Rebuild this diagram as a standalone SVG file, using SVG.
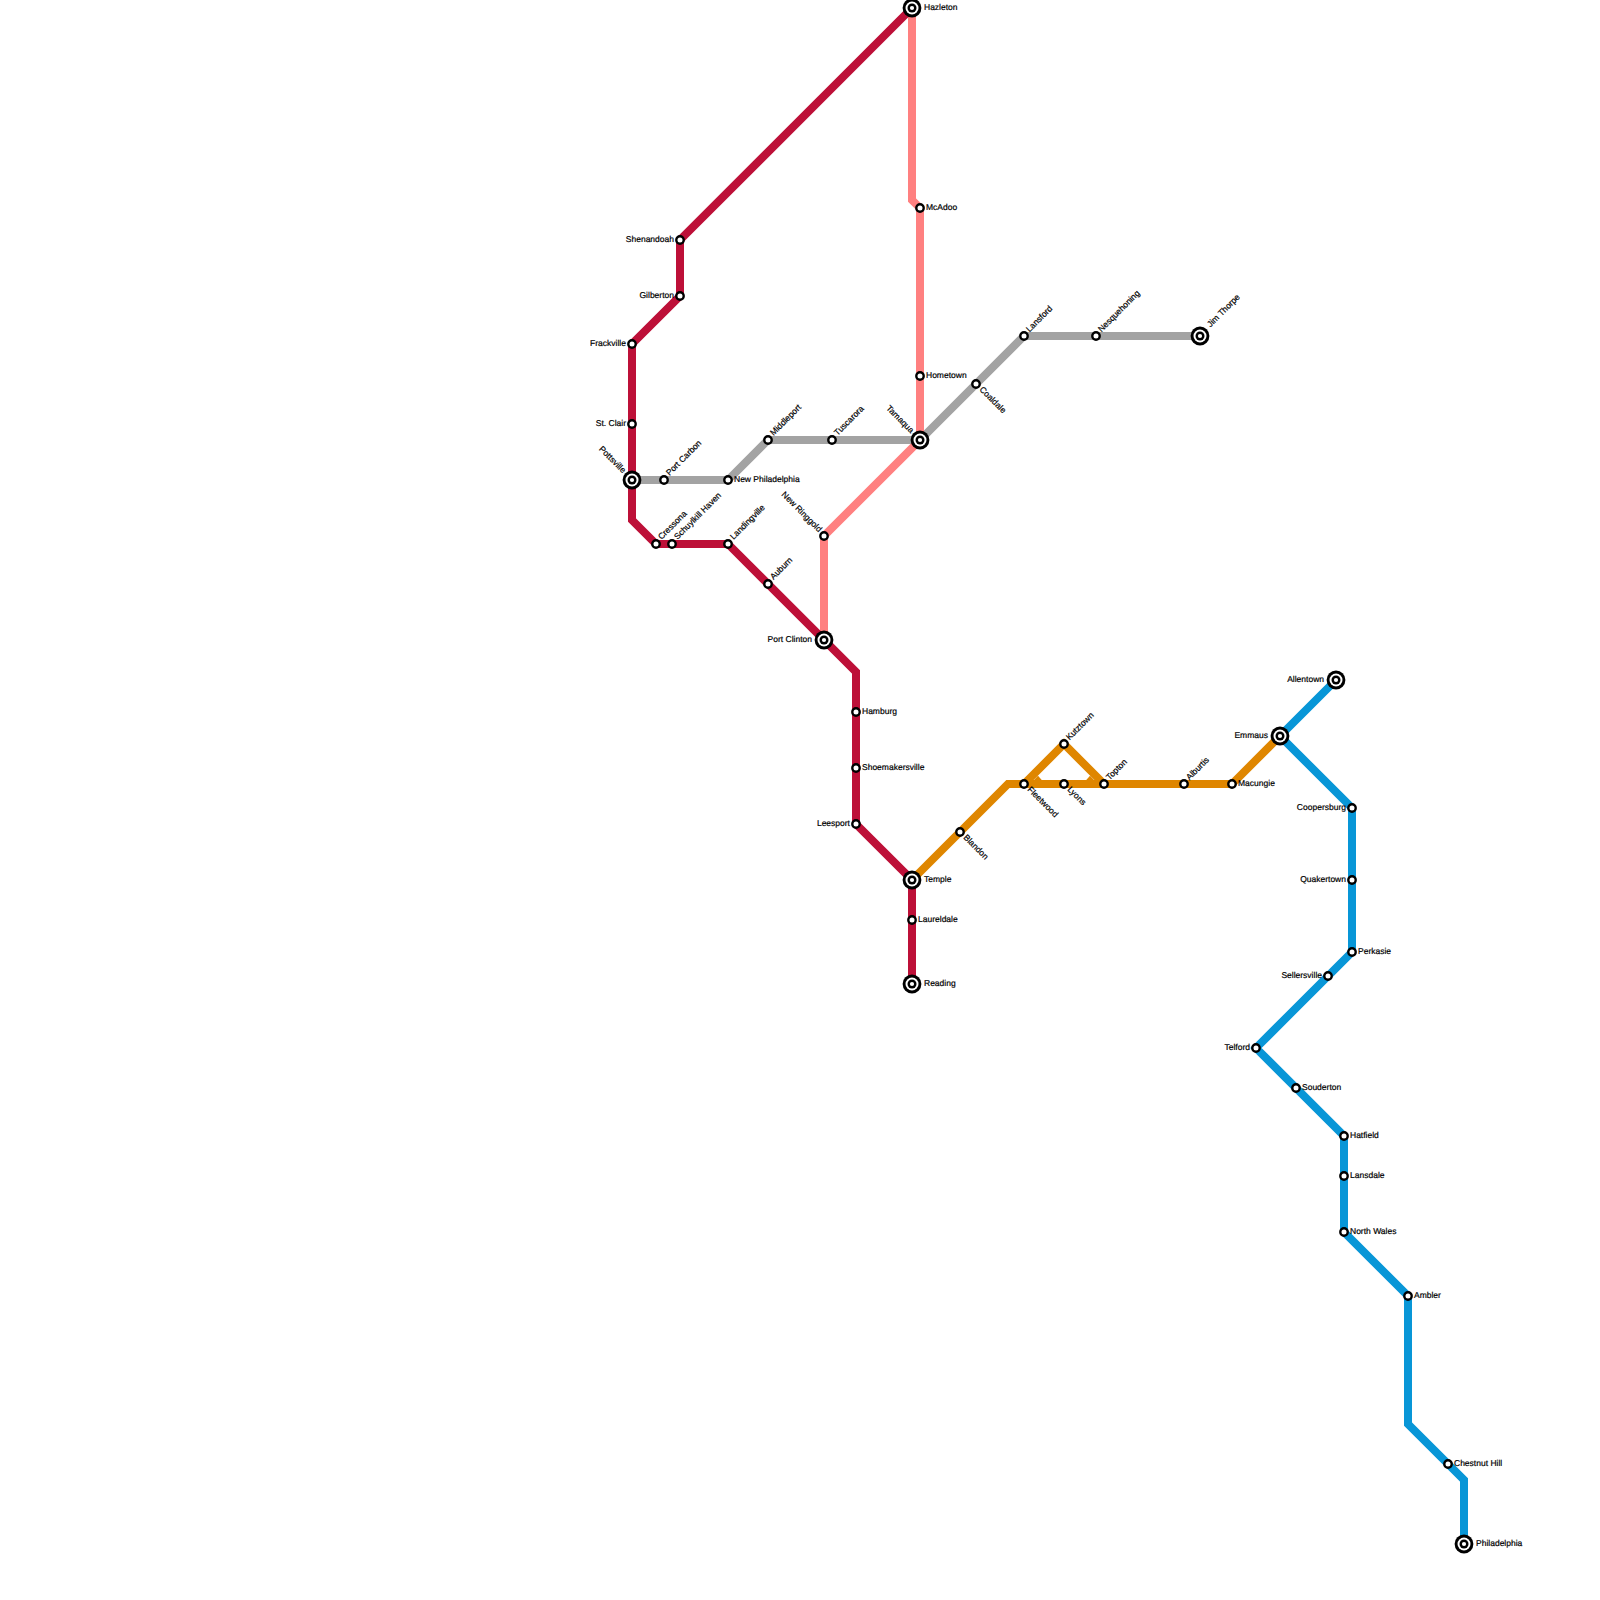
<svg xmlns="http://www.w3.org/2000/svg" width="1600" height="1600" viewBox="0 0 1600 1600">
<style>
.bg{fill:#fff}
.l{fill:none;stroke-width:8;stroke-linejoin:miter;stroke-linecap:butt}
.red{stroke:#bd1038}.pink{stroke:#ff8080}.gray{stroke:#a3a3a3}.org{stroke:#df8600}.blue{stroke:#0896d7}
.f{fill:#df8600}
.s{fill:#fff;stroke:#000;stroke-width:2.4}
.o{fill:#000}.w{fill:#fff}
text{font-family:"Liberation Sans",Arial,sans-serif;font-size:8.5px;font-weight:400;fill:#000;stroke:#000;stroke-width:.2;text-rendering:geometricPrecision}
.e{text-anchor:end}
</style>
<defs>
<g id="ic"><circle r="9.4" class="o"/><circle r="6.5" class="w"/><circle r="4.5" class="o"/><circle r="2.1" class="w"/></g>
<circle id="st" r="3.7" class="s"/>
</defs>
<rect class="bg" width="1600" height="1600"/>
<g id="connectors">
<path class="l gray" d="M632 480H728L768 440H920L1024 336H1200"/>
<path class="l pink" d="M912 8V200L920 208V440L824 536V640"/>
<path class="l red" d="M912 8L680 240V296L632 344V520L656 544H728L856 672V824L912 880V984"/>
<path class="l org" d="M912 880L1008 784H1232L1280 736"/>
<path class="l org" d="M1024 784L1064 744L1104 784"/>
<path class="f" d="M1033.5 780.5L1038 775.7L1042.2 780.5ZM1094.5 780.5L1090 775.7L1085.8 780.5Z"/>
<path class="l blue" d="M1336 680L1280 736L1352 808V952L1256 1048L1344 1136V1232L1408 1296V1424L1464 1480V1544"/>
</g>
<g id="n-hazleton"><use href="#ic" x="912" y="8"/><text x="924" y="10">Hazleton</text></g>
<g id="n-mcadoo"><use href="#st" x="920" y="208"/><text x="926" y="210">McAdoo</text></g>
<g id="n-hometown"><use href="#st" x="920" y="376"/><text x="926" y="378">Hometown</text></g>
<g id="n-tamaqua"><use href="#ic" x="920" y="440"/><text class="e" transform="translate(910.5 433.5) rotate(45)">Tamaqua</text></g>
<g id="n-shenandoah"><use href="#st" x="680" y="240"/><text class="e" x="674" y="242">Shenandoah</text></g>
<g id="n-gilberton"><use href="#st" x="680" y="296"/><text class="e" x="674" y="298">Gilberton</text></g>
<g id="n-frackville"><use href="#st" x="632" y="344"/><text class="e" x="626" y="346">Frackville</text></g>
<g id="n-stclair"><use href="#st" x="632" y="424"/><text class="e" x="626" y="426">St. Clair</text></g>
<g id="n-pottsville"><use href="#ic" x="632" y="480"/><text class="e" transform="translate(622.5 473.5) rotate(45)">Pottsville</text></g>
<g id="n-portcarbon"><use href="#st" x="664" y="480"/><text transform="translate(669.5 476) rotate(-45)">Port Carbon</text></g>
<g id="n-newphil"><use href="#st" x="728" y="480"/><text x="734" y="482">New Philadelphia</text></g>
<g id="n-middleport"><use href="#st" x="768" y="440"/><text transform="translate(773.5 436) rotate(-45)">Middleport</text></g>
<g id="n-tuscarora"><use href="#st" x="832" y="440"/><text transform="translate(837.5 436) rotate(-45)">Tuscarora</text></g>
<g id="n-cressona"><use href="#st" x="656" y="544"/><text transform="translate(661.5 540) rotate(-45)">Cressona</text></g>
<g id="n-schuylkill"><use href="#st" x="672" y="544"/><text transform="translate(677.5 540) rotate(-45)">Schuylkill Haven</text></g>
<g id="n-landingville"><use href="#st" x="728" y="544"/><text transform="translate(733.5 540) rotate(-45)">Landingville</text></g>
<g id="n-auburn"><use href="#st" x="768" y="584"/><text transform="translate(773.5 580) rotate(-45)">Auburn</text></g>
<g id="n-newringgold"><use href="#st" x="824" y="536"/><text class="e" transform="translate(818.5 532.5) rotate(45)">New Ringgold</text></g>
<g id="n-portclinton"><use href="#ic" x="824" y="640"/><text class="e" x="812" y="642">Port Clinton</text></g>
<g id="n-hamburg"><use href="#st" x="856" y="712"/><text x="862" y="714">Hamburg</text></g>
<g id="n-shoemakersville"><use href="#st" x="856" y="768"/><text x="862" y="770">Shoemakersville</text></g>
<g id="n-leesport"><use href="#st" x="856" y="824"/><text class="e" x="850" y="826">Leesport</text></g>
<g id="n-temple"><use href="#ic" x="912" y="880"/><text x="924" y="882">Temple</text></g>
<g id="n-laureldale"><use href="#st" x="912" y="920"/><text x="918" y="922">Laureldale</text></g>
<g id="n-reading"><use href="#ic" x="912" y="984"/><text x="924" y="986">Reading</text></g>
<g id="n-coaldale"><use href="#st" x="976" y="384"/><text transform="translate(979 390) rotate(45)">Coaldale</text></g>
<g id="n-lansford"><use href="#st" x="1024" y="336"/><text transform="translate(1029.5 332.5) rotate(-45)">Lansford</text></g>
<g id="n-nesquehoning"><use href="#st" x="1096" y="336"/><text transform="translate(1101.5 332.5) rotate(-45)">Nesquehoning</text></g>
<g id="n-jimthorpe"><use href="#ic" x="1200" y="336"/><text transform="translate(1210.5 327.5) rotate(-45)">Jim Thorpe</text></g>
<g id="n-blandon"><use href="#st" x="960" y="832"/><text transform="translate(963 838) rotate(45)">Blandon</text></g>
<g id="n-fleetwood"><use href="#st" x="1024" y="784"/><text transform="translate(1027 790) rotate(45)">Fleetwood</text></g>
<g id="n-kutztown"><use href="#st" x="1064" y="744"/><text transform="translate(1069.5 740.5) rotate(-45)">Kutztown</text></g>
<g id="n-lyons"><use href="#st" x="1064" y="784"/><text transform="translate(1067 790) rotate(45)">Lyons</text></g>
<g id="n-topton"><use href="#st" x="1104" y="784"/><text transform="translate(1109.5 780.5) rotate(-45)">Topton</text></g>
<g id="n-alburtis"><use href="#st" x="1184" y="784"/><text transform="translate(1189.5 780.5) rotate(-45)">Alburtis</text></g>
<g id="n-macungie"><use href="#st" x="1232" y="784"/><text x="1238" y="786">Macungie</text></g>
<g id="n-emmaus"><use href="#ic" x="1280" y="736"/><text class="e" x="1268" y="738">Emmaus</text></g>
<g id="n-allentown"><use href="#ic" x="1336" y="680"/><text class="e" x="1324" y="682">Allentown</text></g>
<g id="n-coopersburg"><use href="#st" x="1352" y="808"/><text class="e" x="1346" y="810">Coopersburg</text></g>
<g id="n-quakertown"><use href="#st" x="1352" y="880"/><text class="e" x="1346" y="882">Quakertown</text></g>
<g id="n-perkasie"><use href="#st" x="1352" y="952"/><text x="1358" y="954">Perkasie</text></g>
<g id="n-sellersville"><use href="#st" x="1328" y="976"/><text class="e" x="1322" y="978">Sellersville</text></g>
<g id="n-telford"><use href="#st" x="1256" y="1048"/><text class="e" x="1250" y="1050">Telford</text></g>
<g id="n-souderton"><use href="#st" x="1296" y="1088"/><text x="1302" y="1090">Souderton</text></g>
<g id="n-hatfield"><use href="#st" x="1344" y="1136"/><text x="1350" y="1138">Hatfield</text></g>
<g id="n-lansdale"><use href="#st" x="1344" y="1176"/><text x="1350" y="1178">Lansdale</text></g>
<g id="n-northwales"><use href="#st" x="1344" y="1232"/><text x="1350" y="1234">North Wales</text></g>
<g id="n-ambler"><use href="#st" x="1408" y="1296"/><text x="1414" y="1298">Ambler</text></g>
<g id="n-chestnuthill"><use href="#st" x="1448" y="1464"/><text x="1454" y="1466">Chestnut Hill</text></g>
<g id="n-philadelphia"><use href="#ic" x="1464" y="1544"/><text x="1476" y="1546">Philadelphia</text></g>
</svg>
